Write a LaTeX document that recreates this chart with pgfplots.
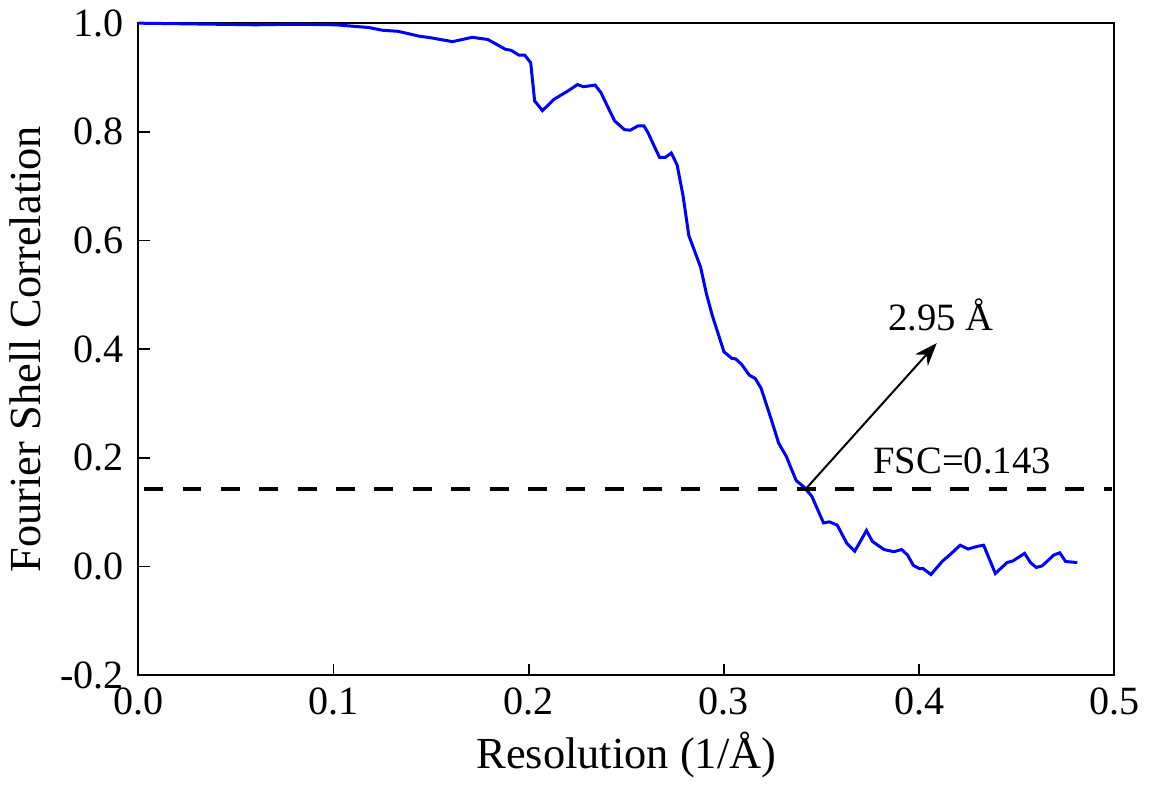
\documentclass[border=0pt]{standalone}
\usepackage{pgfplots}
\pgfplotsset{compat=1.18}
\usepackage{fontspec}
\setmainfont{Liberation Serif}
\usetikzlibrary{arrows.meta}

\pgfplotstableread{
x y
0.000 1.000
0.020 0.999
0.040 0.998
0.060 0.997
0.080 0.998
0.101 0.997
0.118 0.992
0.125 0.987
0.133 0.985
0.144 0.976
0.150 0.973
0.161 0.966
0.171 0.974
0.179 0.970
0.188 0.952
0.191 0.950
0.195 0.941
0.198 0.941
0.201 0.927
0.203 0.857
0.207 0.839
0.213 0.860
0.220 0.875
0.225 0.887
0.228 0.883
0.234 0.886
0.237 0.872
0.241 0.842
0.244 0.820
0.249 0.804
0.252 0.803
0.256 0.811
0.259 0.811
0.261 0.799
0.265 0.768
0.267 0.753
0.270 0.753
0.273 0.761
0.276 0.739
0.279 0.683
0.282 0.609
0.288 0.551
0.291 0.502
0.294 0.462
0.300 0.395
0.304 0.383
0.306 0.382
0.309 0.372
0.313 0.352
0.316 0.346
0.319 0.328
0.324 0.273
0.328 0.227
0.332 0.202
0.334 0.184
0.337 0.158
0.341 0.146
0.345 0.129
0.351 0.080
0.354 0.082
0.358 0.076
0.363 0.042
0.367 0.028
0.373 0.066
0.376 0.046
0.382 0.031
0.387 0.027
0.391 0.031
0.394 0.021
0.397 0.002
0.400 -0.004
0.402 -0.004
0.406 -0.015
0.412 0.010
0.415 0.019
0.421 0.039
0.425 0.032
0.430 0.037
0.433 0.039
0.439 -0.013
0.445 0.007
0.448 0.010
0.454 0.024
0.457 0.007
0.460 -0.002
0.463 0.001
0.469 0.021
0.472 0.025
0.475 0.009
0.481 0.007
}\fsc

\begin{document}
\begin{tikzpicture}
\begin{axis}[
  scale only axis,
  width=340.8pt,height=227.6pt,
  xmin=0,xmax=0.5,ymin=-0.2,ymax=1.0,
  xtick={0,0.1,0.2,0.3,0.4,0.5},
  xticklabels={0.0,0.1,0.2,0.3,0.4,0.5},
  ytick={-0.2,0,0.2,0.4,0.6,0.8,1.0},
  yticklabels={-0.2,0.0,0.2,0.4,0.6,0.8,1.0},
  tick align=inside,
  xtick pos=bottom,ytick pos=left,
  major tick length=4pt,
  axis line style={line width=0.7pt},
  tick style={line width=0.6pt,black},
  ticklabel style={font=\fontsize{14}{16}\selectfont},
  xticklabel style={yshift=-1pt},
  yticklabel style={xshift=-1.5pt},
  xlabel={Resolution (1/Å)},
  ylabel={Fourier Shell Correlation},
  label style={font=\fontsize{15.5}{18}\selectfont},
  xlabel style={yshift=1pt},
  ylabel style={yshift=0pt},
  clip=false]
\addplot[blue,line width=1.05pt] table {\fsc};
\addplot[black,line width=1.4pt,dash pattern=on 6.6pt off 6.8pt] coordinates {(0.003,0.143) (0.499,0.143)};
\draw[line width=0.7pt,-{Stealth[length=8pt,width=6pt]}] (axis cs:0.342,0.143) -- (axis cs:0.409,0.411);
\node[font=\fontsize{13.5}{16}\selectfont] at (axis cs:0.411,0.462) {2.95 Å};
\node[font=\fontsize{13.5}{16}\selectfont] at (axis cs:0.422,0.194) {FSC=0.143};
\end{axis}
\end{tikzpicture}
\end{document}
